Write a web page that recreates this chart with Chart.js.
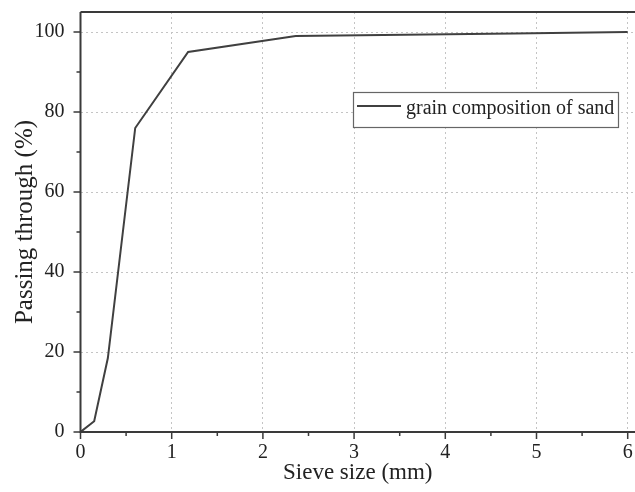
<!DOCTYPE html>
<html>
<head>
<meta charset="utf-8">
<script src="https://cdn.jsdelivr.net/npm/chart.js@4/dist/chart.umd.min.js"></script>
<style>
  html, body { margin: 0; padding: 0; background: #fff; }
  #wrap { width: 635px; height: 492px; position: relative; }
</style>
</head>
<body>
<div id="wrap"><canvas id="sieveChart"></canvas></div>
<script>
// Sieve analysis data
const sieveSizes = [0, 0.15, 0.3, 0.6, 1.18, 2.36, 4.75, 6];
const passing = [0, 2.7, 18.5, 76, 95, 99, 99.6, 100];
const seriesLabel = "grain composition of sand";
const xTitle = "Sieve size (mm)";
const yTitle = "Passing through (%)";

const serif = "'Liberation Serif', 'DejaVu Serif', serif";
const axisColor = "#3a3a3a";

// axis lines, frame and tick marks (major + minor, pointing outward)
const framePlugin = {
  id: "frame",
  afterDraw(chart) {
    const { ctx, chartArea: a, scales } = chart;
    ctx.save();
    ctx.strokeStyle = axisColor;
    ctx.lineWidth = 2;
    ctx.beginPath();
    ctx.moveTo(a.left, a.top);
    ctx.lineTo(a.right, a.top);
    ctx.moveTo(a.left, a.top);
    ctx.lineTo(a.left, a.bottom);
    ctx.lineTo(a.right, a.bottom);
    ctx.stroke();

    ctx.lineWidth = 1.5;
    ctx.beginPath();
    scales.x.ticks.forEach(t => {
      const px = scales.x.getPixelForValue(t.value);
      const len = Number.isInteger(t.value) ? 7 : 4;
      ctx.moveTo(px, a.bottom);
      ctx.lineTo(px, a.bottom + len);
    });
    scales.y.ticks.forEach(t => {
      const py = scales.y.getPixelForValue(t.value);
      const len = t.value % 20 === 0 ? 7 : 4;
      ctx.moveTo(a.left, py);
      ctx.lineTo(a.left - len, py);
    });
    ctx.stroke();
    ctx.restore();
  }
};

// boxed legend in the upper right of the plot
const legendBox = {
  id: "legendBox",
  afterDraw(chart) {
    const { ctx } = chart;
    const ds = chart.data.datasets[0];
    ctx.save();
    ctx.fillStyle = "#fff";
    ctx.fillRect(353, 92, 265, 35);
    ctx.strokeStyle = "#666";
    ctx.lineWidth = 1.2;
    ctx.strokeRect(353.5, 92.5, 265, 35);
    ctx.strokeStyle = ds.borderColor;
    ctx.lineWidth = 2;
    ctx.beginPath();
    ctx.moveTo(357, 106);
    ctx.lineTo(401, 106);
    ctx.stroke();
    ctx.fillStyle = "#222";
    ctx.font = "20px " + serif;
    ctx.textBaseline = "alphabetic";
    ctx.fillText(ds.label, 406, 114);
    ctx.restore();
  }
};

// keep the plot area fixed: no extra room reserved for edge labels
function noEdgePadding(s) {
  s.paddingTop = 0;
  s.paddingBottom = 0;
  s.paddingLeft = 0;
  s.paddingRight = 0;
}

new Chart(document.getElementById("sieveChart"), {
  type: "line",
  data: {
    datasets: [{
      label: seriesLabel,
      data: sieveSizes.map((x, i) => ({ x: x, y: passing[i] })),
      borderColor: "#404040",
      borderWidth: 2,
      pointRadius: 0,
      tension: 0,
      fill: false
    }]
  },
  options: {
    responsive: true,
    maintainAspectRatio: false,
    animation: false,
    layout: { padding: { top: 12, right: 0, left: 0, bottom: 0 } },
    plugins: {
      legend: { display: false },
      tooltip: { enabled: false }
    },
    scales: {
      x: {
        type: "linear",
        min: 0,
        max: 6.08,
        afterFit: s => { s.height = 60; noEdgePadding(s); },
        ticks: {
          stepSize: 0.5,
          includeBounds: false,
          autoSkip: false,
          maxRotation: 0,
          padding: 9,
          color: "#222",
          font: { family: serif, size: 20 },
          callback: v => Number.isInteger(v) ? String(v) : ""
        },
        grid: {
          drawTicks: false,
          lineWidth: 1,
          color: c => (c.tick && Number.isInteger(c.tick.value) && c.tick.value !== 0) ? "#c4c4c4" : "rgba(0,0,0,0)"
        },
        border: { display: false, dash: [2, 3] },
        title: {
          display: true,
          text: xTitle,
          color: "#222",
          font: { family: serif, size: 23 },
          padding: { top: 0, bottom: 5 }
        }
      },
      y: {
        min: 0,
        max: 105,
        afterFit: s => { s.width = 80.5; noEdgePadding(s); },
        ticks: {
          stepSize: 10,
          includeBounds: false,
          autoSkip: false,
          padding: 16,
          color: "#222",
          font: { family: serif, size: 20 },
          callback: v => v % 20 === 0 ? String(v) : ""
        },
        grid: {
          drawTicks: false,
          lineWidth: 1,
          color: c => (c.tick && c.tick.value % 20 === 0 && c.tick.value !== 0) ? "#c4c4c4" : "rgba(0,0,0,0)"
        },
        border: { display: false, dash: [2, 3] },
        title: {
          display: true,
          text: yTitle,
          color: "#222",
          font: { family: serif, size: 25 },
          padding: { top: 10, bottom: 0 }
        }
      }
    }
  },
  plugins: [framePlugin, legendBox]
});
</script>
</body>
</html>
